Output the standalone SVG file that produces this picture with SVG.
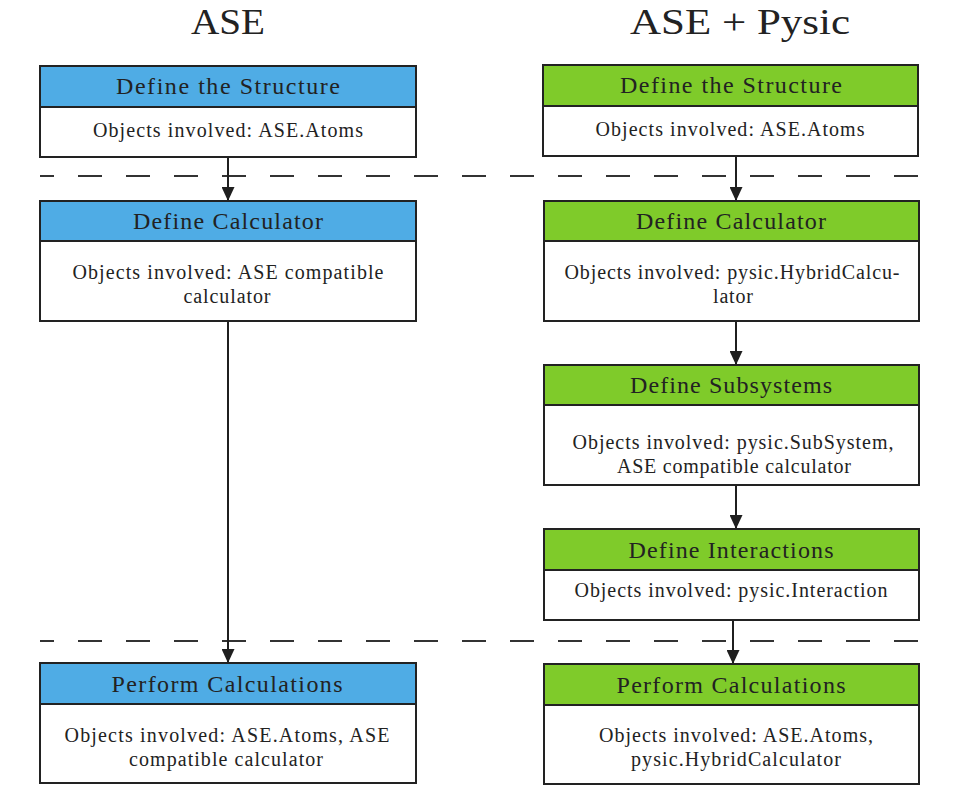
<svg xmlns="http://www.w3.org/2000/svg" width="955" height="795" viewBox="0 0 955 795">
<defs>
<marker id="arr" markerWidth="14" markerHeight="13" refX="14" refY="6.5" orient="auto" markerUnits="userSpaceOnUse">
<path d="M0,0 L14,6.5 L0,13 Z" fill="#1f1f1f"/>
</marker>
</defs>
<style>
text{font-family:"Liberation Serif","DejaVu Serif",serif;fill:#222;text-anchor:middle}
.t{font-size:36px}
.h{font-size:24px}
.b{font-size:20px}
.box{fill:#fff;stroke:#222;stroke-width:2}
.blue{fill:#4FACE5;stroke:#222;stroke-width:2}
.green{fill:#7FCB2A;stroke:#222;stroke-width:2}
.con{stroke:#1f1f1f;stroke-width:2;fill:none}
.dash{stroke:#333;stroke-width:2;stroke-dasharray:24 24;stroke-dashoffset:10;fill:none}
</style>
<rect width="955" height="795" fill="#fff"/>
<text class="t" x="228" y="34" textLength="74" lengthAdjust="spacingAndGlyphs">ASE</text>
<text class="t" x="740" y="34" textLength="220" lengthAdjust="spacingAndGlyphs">ASE + Pysic</text>

<g id="connectors">
<line class="dash" x1="40" y1="176" x2="918" y2="176"/>
<line class="dash" x1="40" y1="641" x2="918" y2="641"/>
<line class="con" x1="228" y1="157" x2="228" y2="201" marker-end="url(#arr)"/>
<line class="con" x1="228" y1="321" x2="228" y2="663" marker-end="url(#arr)"/>
<line class="con" x1="736" y1="156" x2="736" y2="201" marker-end="url(#arr)"/>
<line class="con" x1="736" y1="321" x2="736" y2="365" marker-end="url(#arr)"/>
<line class="con" x1="736" y1="485" x2="736" y2="529" marker-end="url(#arr)"/>
<line class="con" x1="733" y1="620" x2="733" y2="664" marker-end="url(#arr)"/>
</g>

<g id="ase-structure">
<rect class="box" x="40" y="66" width="376" height="91"/>
<rect class="blue" x="40" y="66" width="376" height="41"/>
<text class="h" x="228" y="94" textLength="224" lengthAdjust="spacing">Define the Structure</text>
<text class="b" x="228" y="137" textLength="270" lengthAdjust="spacing">Objects involved: ASE.Atoms</text>
</g>
<g id="ase-calculator">
<rect class="box" x="40" y="201" width="376" height="120"/>
<rect class="blue" x="40" y="201" width="376" height="40"/>
<text class="h" x="228" y="229" textLength="190" lengthAdjust="spacing">Define Calculator</text>
<text class="b" x="228" y="279" textLength="311" lengthAdjust="spacing">Objects involved: ASE compatible</text>
<text class="b" x="227" y="303" textLength="87" lengthAdjust="spacing">calculator</text>
</g>
<g id="ase-perform">
<rect class="box" x="40" y="663" width="376" height="120"/>
<rect class="blue" x="40" y="663" width="376" height="41"/>
<text class="h" x="227" y="692" textLength="231" lengthAdjust="spacing">Perform Calculations</text>
<text class="b" x="227" y="742" textLength="325" lengthAdjust="spacing">Objects involved: ASE.Atoms, ASE</text>
<text class="b" x="226" y="766" textLength="194" lengthAdjust="spacing">compatible calculator</text>
</g>

<g id="pysic-structure">
<rect class="box" x="543" y="65" width="375" height="91"/>
<rect class="green" x="543" y="65" width="375" height="41"/>
<text class="h" x="731" y="93" textLength="222" lengthAdjust="spacing">Define the Structure</text>
<text class="b" x="730" y="136" textLength="269" lengthAdjust="spacing">Objects involved: ASE.Atoms</text>
</g>
<g id="pysic-calculator">
<rect class="box" x="544" y="201" width="375" height="120"/>
<rect class="green" x="544" y="201" width="375" height="40"/>
<text class="h" x="731" y="229" textLength="190" lengthAdjust="spacing">Define Calculator</text>
<text class="b" x="732" y="279" textLength="335" lengthAdjust="spacing">Objects involved: pysic.HybridCalcu-</text>
<text class="b" x="733" y="303" textLength="40" lengthAdjust="spacing">lator</text>
</g>
<g id="pysic-subsystems">
<rect class="box" x="544" y="365" width="375" height="120"/>
<rect class="green" x="544" y="365" width="375" height="40"/>
<text class="h" x="731" y="393" textLength="202" lengthAdjust="spacing">Define Subsystems</text>
<text class="b" x="733" y="449" textLength="321" lengthAdjust="spacing">Objects involved: pysic.SubSystem,</text>
<text class="b" x="734" y="473" textLength="234" lengthAdjust="spacing">ASE compatible calculator</text>
</g>
<g id="pysic-interactions">
<rect class="box" x="544" y="529" width="375" height="91"/>
<rect class="green" x="544" y="529" width="375" height="41"/>
<text class="h" x="731" y="558" textLength="205" lengthAdjust="spacing">Define Interactions</text>
<text class="b" x="731" y="597" textLength="313" lengthAdjust="spacing">Objects involved: pysic.Interaction</text>
</g>
<g id="pysic-perform">
<rect class="box" x="544" y="664" width="375" height="120"/>
<rect class="green" x="544" y="664" width="375" height="41"/>
<text class="h" x="731" y="693" textLength="229" lengthAdjust="spacing">Perform Calculations</text>
<text class="b" x="736" y="742" textLength="274" lengthAdjust="spacing">Objects involved: ASE.Atoms,</text>
<text class="b" x="736" y="766" textLength="210" lengthAdjust="spacing">pysic.HybridCalculator</text>
</g>
</svg>
